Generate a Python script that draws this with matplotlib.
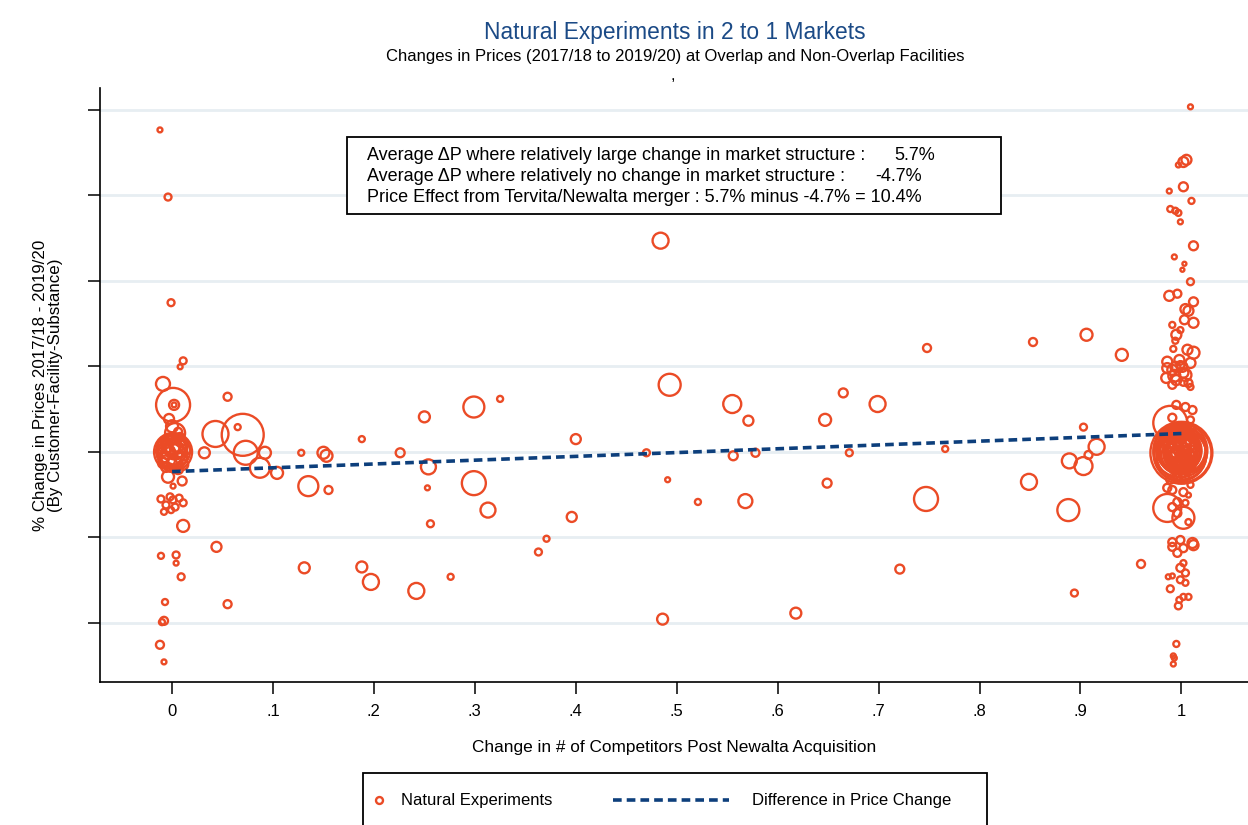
import matplotlib
matplotlib.use("Agg")
import matplotlib.pyplot as plt
from matplotlib.lines import Line2D
from matplotlib.patches import Rectangle
import numpy as np

plt.rcParams['font.family'] = ['Liberation Sans', 'DejaVu Sans']

# Facilities with (relatively) no change in # of competitors
x_none = [-0.012, -0.004, -0.001, 0.011, 0.008, -0.009, 0.001, 0.002, 0.002, -0.003,
          0.003, 0.001, -0.002, 0.004, -0.005, 0.007, -0.008, 0.009, 0.0, -0.009,
          0.011, -0.002, 0.006, -0.006, 0.013, 0.032, -0.004, 0.010, 0.001, -0.011,
          -0.002, 0.001, 0.007, 0.011, -0.006, 0.003, -0.008, -0.001, 0.011, -0.011,
          0.004, 0.004, 0.009, -0.007, -0.008, -0.010, -0.012, -0.008,
          0.000, 0.002, -0.001, 0.003, -0.004, 0.005, 0.001, -0.002, 0.006, -0.006,
          0.000, 0.008, 0.001, -0.001, 0.003, 0.000]
y_none = [75.3, 59.6, 34.9, 21.3, 19.9, 15.9, 11.0, 11.0, 11.0, 7.7,
          4.4, 0.0, -0.7, 0.9, -1.9, 1.6, 0.5, -1.4, 2.8, -2.6,
          -3.0, -3.7, 4.7, 2.1, 0.5, -0.2, -5.8, -6.8, -8.0, -11.0,
          -10.5, -11.2, -10.8, -11.9, -12.4, -12.9, -14.0, -13.6, -17.3, -24.3,
          -24.1, -26.0, -29.2, -35.1, -39.5, -39.8, -45.1, -49.1,
          0.5, -1.0, 1.5, -2.5, 0.0, 1.0, -0.5, 3.0, -4.0, -3.5,
          6.0, 3.5, 0.2, -0.3, 0.8, 1.2]
w_none = [6, 12, 12, 12, 6, 49, 289, 25, 6, 25,
          100, 361, 144, 100, 64, 64, 36, 36, 25, 25,
          25, 16, 16, 25, 25, 30, 36, 20, 6, 12,
          12, 12, 12, 12, 12, 12, 9, 9, 36, 9,
          12, 6, 12, 9, 16, 9, 16, 6,
          225, 169, 81, 49, 49, 36, 16, 25, 25, 25,
          36, 16, 289, 196, 121, 64]

# Facilities with partial change
x_mid = [0.044, 0.055, 0.043, 0.070, 0.065, 0.073, 0.092, 0.087, 0.104, 0.128,
         0.150, 0.153, 0.135, 0.155, 0.188, 0.226, 0.250, 0.254, 0.253, 0.256,
         0.299, 0.325, 0.299, 0.313, 0.131, 0.055, 0.188, 0.197, 0.242, 0.276,
         0.484, 0.493, 0.555, 0.571, 0.647, 0.400, 0.470, 0.556, 0.578, 0.491,
         0.521, 0.568, 0.649, 0.396, 0.371, 0.363, 0.486, 0.618, 0.748, 0.853,
         0.906, 0.941, 0.665, 0.699, 0.671, 0.766, 0.903, 0.916, 0.908, 0.889,
         0.903, 0.849, 0.747, 0.888, 0.721, 0.894, 0.960]
y_mid = [-22.2, 12.9, 4.2, 4.0, 5.8, -0.2, -0.2, -3.7, -4.9, -0.2,
         -0.2, -0.9, -8.0, -8.9, 3.0, -0.2, 8.2, -3.5, -8.4, -16.8,
         10.5, 12.4, -7.3, -13.6, -27.1, -35.6, -26.9, -30.4, -32.5, -29.2,
         49.4, 15.7, 11.2, 7.3, 7.5, 3.0, -0.2, -0.9, -0.2, -6.5,
         -11.7, -11.5, -7.3, -15.2, -20.3, -23.4, -39.1, -37.7, 24.3, 25.7,
         27.4, 22.7, 13.8, 11.2, -0.2, 0.7, 5.8, 1.2, -0.7, -2.1,
         -3.3, -7.0, -11.0, -13.6, -27.4, -33.0, -26.2]
w_mid = [25, 16, 169, 441, 9, 144, 36, 100, 36, 9,
         36, 36, 100, 16, 9, 20, 30, 56, 6, 12,
         110, 9, 144, 56, 30, 16, 30, 64, 64, 9,
         64, 121, 81, 25, 36, 25, 12, 20, 16, 6,
         9, 49, 20, 25, 9, 12, 30, 30, 16, 16,
         36, 36, 20, 64, 12, 9, 12, 64, 16, 56,
         81, 64, 144, 121, 20, 12, 16]

# Facilities going from 2 to 1 competitors
x_full = [1.009, 1.002, 1.005, 0.997, 1.002, 0.988, 1.010, 0.989, 0.994, 0.997,
          0.999, 1.012, 0.993, 1.003, 1.001, 1.009, 0.988, 0.996, 1.012, 1.004,
          1.007, 1.012, 1.003, 0.991, 0.999, 0.995, 0.994, 0.992, 1.006, 1.012,
          0.986, 0.994, 1.001, 1.009, 0.986, 0.991, 1.002, 0.999, 1.007, 0.985,
          0.995, 1.002, 1.009, 0.991, 0.995, 1.004, 1.011, 0.991, 1.009, 1.011,
          1.002, 0.989, 1.000, 0.999, 0.997, 1.002, 0.995, 1.004, 0.998, 1.001,
          0.993, 1.007, 0.995, 1.004, 0.999, 0.991, 1.009, 0.988, 1.012, 1.004,
          0.994, 0.989, 0.997, 1.009, 0.986, 0.991, 1.002, 1.007, 0.996, 1.004,
          0.986, 1.002, 0.991, 0.996, 1.007, 0.991, 0.999, 1.011, 0.991, 1.002,
          1.012, 0.996, 1.002, 0.999, 1.004, 0.991, 0.987, 0.999, 1.004, 0.989,
          1.002, 1.007, 0.998, 0.997, 0.995, 0.992, 0.993, 0.992,
          1.000, 0.998, 1.003, 0.996, 1.001, 0.999, 1.004, 0.994, 1.006, 0.997,
          1.000, 1.002, 0.992, 1.008, 0.998, 1.000, 1.001, 0.995, 1.005, 1.003,
          0.990, 1.010, 0.993, 1.004, 0.998,
          1.001, 0.999, 1.000, 1.002, 0.998, 1.001, 0.999, 1.000, 1.003, 0.997,
          0.995, 1.005, 0.994, 1.006]
y_full = [80.7, 67.8, 68.3, 67.1, 62.0, 61.0, 58.7, 56.8, 56.4, 55.9,
          53.8, 48.2, 45.6, 44.0, 42.6, 39.8, 36.5, 37.0, 35.1, 33.4,
          33.0, 30.2, 30.9, 29.7, 28.5, 27.4, 26.0, 24.1, 23.9, 23.2,
          21.1, 19.9, 19.9, 20.8, 19.6, 19.2, 18.5, 20.3, 16.1, 17.3,
          16.8, 16.4, 15.2, 15.7, 11.0, 10.5, 9.8, 8.0, 7.5, 5.6,
          5.1, 6.8, -0.2, -0.7, 0.5, 0.0, -0.9, 0.9, -1.4, 1.6,
          0.5, -1.2, 2.8, 2.8, -2.3, -2.3, -3.0, 1.6, 1.2, -4.2,
          -4.2, -6.5, -6.1, -7.7, -8.4, -8.9, -9.4, -10.1, -11.7, -11.9,
          -13.1, -15.4, -12.9, -14.3, -16.4, -21.1, -20.6, -21.3, -22.2, -22.5,
          -21.8, -23.6, -26.0, -27.1, -28.3, -29.0, -29.2, -29.9, -30.6, -32.0,
          -33.9, -33.9, -34.6, -36.0, -44.9, -47.7, -48.2, -49.6,
          0.5, -0.5, 0.3, 1.0, -1.8, 2.0, -0.8, -1.5, 1.5, -3.0,
          3.5, -4.5, -0.5, 0.0, 0.0, 1.0, -1.0, 4.0, 4.5, -5.5,
          3.0, -2.0, 17.8, 18.0, 21.5,
          -0.3, 0.4, -0.6, 0.2, -0.1, 0.6, -0.4, 0.1, -0.2, 0.3,
          -2.0, 2.2, 2.5, -2.6]
w_full = [6, 25, 25, 6, 20, 6, 9, 9, 9, 9,
          6, 20, 6, 4, 4, 12, 25, 16, 20, 25,
          25, 25, 20, 9, 9, 25, 9, 9, 25, 36,
          25, 25, 25, 25, 25, 25, 25, 16, 16, 25,
          25, 16, 9, 16, 16, 16, 16, 16, 12, 9,
          16, 289, 961, 676, 484, 324, 225, 144, 100, 64,
          64, 64, 36, 36, 36, 25, 25, 36, 25, 25,
          25, 16, 16, 9, 16, 16, 16, 6, 16, 9,
          196, 121, 16, 16, 9, 16, 16, 25, 16, 16,
          25, 16, 9, 16, 12, 6, 6, 12, 9, 12,
          9, 9, 9, 12, 9, 6, 6, 6,
          576, 400, 256, 196, 169, 121, 81, 81, 49, 49,
          36, 36, 49, 49, 25, 9, 16, 25, 25, 25,
          25, 25, 36, 36, 25,
          841, 729, 625, 529, 441, 361, 289, 225, 169, 121,
          100, 100, 64, 64]

# fitted difference line
fit_x = [0, 1]
fit_y = [-4.6, 4.3]

xticks = [0, 0.1, 0.2, 0.3, 0.4, 0.5, 0.6, 0.7, 0.8, 0.9, 1.0]
xtick_labels = ['0', '.1', '.2', '.3', '.4', '.5', '.6', '.7', '.8', '.9', '1']
yticks = [-40, -20, 0, 20, 40, 60, 80]

ORANGE = '#EB4B26'
NAVY = '#0D3F7C'

x = np.concatenate([x_none, x_mid, x_full])
y = np.concatenate([y_none, y_mid, y_full])
w = np.concatenate([w_none, w_mid, w_full])

W, H = 1248, 825
fig = plt.figure(figsize=(W / 100, H / 100), dpi=100)
ax = fig.add_axes([100 / W, 1 - 682 / H, 1148 / W, 594 / H])

ax.scatter(x, y, s=2.07 * w, facecolors='none', edgecolors=ORANGE,
           linewidths=1.7, zorder=3)
ax.plot(fit_x, fit_y, color=NAVY, lw=2.6, ls=(0, (2.4, 1.4)), zorder=4)

ax.set_xlim(-0.0714, 1.066)
ax.set_ylim(-53.8, 85.1)
ax.set_xticks(xticks)
ax.set_xticklabels(xtick_labels, fontsize=12)
ax.set_yticks(yticks)
ax.set_yticklabels([])
ax.yaxis.grid(True, color='#E7EEF2', lw=2)
ax.set_axisbelow(True)
for s in ['top', 'right']:
    ax.spines[s].set_visible(False)
for s in ['left', 'bottom']:
    ax.spines[s].set_linewidth(1.2)
ax.tick_params(length=8.5, width=1.1, direction='out', pad=7)

ax.set_xlabel('Change in # of Competitors Post Newalta Acquisition', fontsize=12.4)
ax.xaxis.set_label_coords(0.5, -0.097)
ax.set_ylabel('% Change in Prices 2017/18 - 2019/20\n(By Customer-Facility-Substance)',
              fontsize=12.2, linespacing=1.0)
ax.yaxis.set_label_coords(-0.032, 0.5)

# titles
fig.text(675 / W, 1 - 32 / H, 'Natural Experiments in 2 to 1 Markets',
         ha='center', va='center', fontsize=16.4, color='#1B4A86')
fig.text(675 / W, 1 - 57 / H,
         'Changes in Prices (2017/18 to 2019/20) at Overlap and Non-Overlap Facilities',
         ha='center', va='center', fontsize=12)
fig.text(673 / W, 1 - 76 / H, ',', ha='center', va='center', fontsize=12)

# summary box
fig.add_artist(Rectangle((347 / W, 1 - 214 / H), 654 / W, 77 / H,
                         transform=fig.transFigure, fc='white', ec='black', lw=1.3, zorder=5))
box_lines = ['Average \u0394P where relatively large change in market structure :',
             'Average \u0394P where relatively no change in market structure :',
             'Price Effect from Tervita/Newalta merger : 5.7% minus -4.7% = 10.4%']
box_vals = ['5.7%', '-4.7%', '']
for i, (t, v) in enumerate(zip(box_lines, box_vals)):
    yy = 1 - (155 + 21.5 * i) / H
    fig.text(367 / W, yy, t, ha='left', va='center', fontsize=13, zorder=6)
    if v:
        fig.text([935, 922][i] / W, yy, v, ha='right', va='center', fontsize=13, zorder=6)

# legend
fig.add_artist(Rectangle((363 / W, 1 - 835 / H), 624 / W, 62 / H,
                         transform=fig.transFigure, fc='white', ec='black', lw=1.3))
ly = 1 - 800 / H
fig.add_artist(Line2D([379 / W], [ly], transform=fig.transFigure, marker='o', ms=5,
                      mfc='none', mec=ORANGE, mew=1.7, ls='none'))
fig.text(401 / W, ly, 'Natural Experiments', ha='left', va='center', fontsize=12)
fig.add_artist(Line2D([613 / W, 729 / W], [ly, ly], transform=fig.transFigure,
                      color=NAVY, lw=2.6, ls=(0, (2.4, 1.4))))
fig.text(752 / W, ly, 'Difference in Price Change', ha='left', va='center', fontsize=12)

fig.savefig('out.png', dpi=100)
